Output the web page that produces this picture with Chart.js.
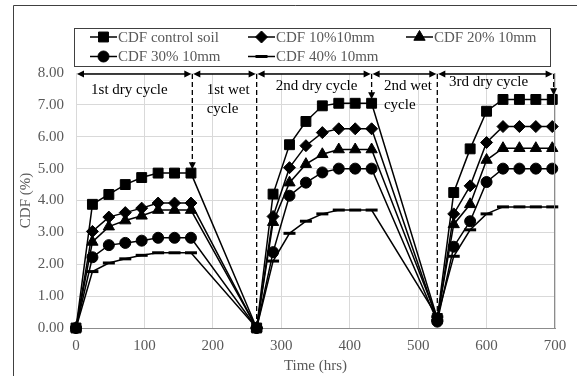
<!DOCTYPE html>
<html>
<head>
<meta charset="utf-8">
<script src="https://cdn.jsdelivr.net/npm/chart.js@4"></script>
<style>
  body { margin: 0; background: #fff; }
  canvas { display: block; }
</style>
</head>
<body>
<canvas id="cdf" width="577" height="376"></canvas>
<script>
// time (hrs) of each reading
const times = [0, 24, 48, 72, 96, 120, 144, 168, 264, 288, 312, 336, 360, 384, 408, 432, 528, 552, 576, 600, 624, 648, 672, 696];

const seriesNames = ['CDF control soil', 'CDF 10%10mm', 'CDF 20% 10mm', 'CDF 30% 10mm', 'CDF 40% 10mm'];
const controlSoil = [0, 3.88, 4.19, 4.50, 4.72, 4.86, 4.86, 4.86, 0, 4.20, 5.75, 6.48, 6.97, 7.05, 7.05, 7.05, 0.30, 4.25, 5.62, 6.80, 7.17, 7.17, 7.17, 7.17];
const fiber10 = [0, 3.03, 3.48, 3.62, 3.76, 3.92, 3.92, 3.92, 0, 3.50, 5.03, 5.72, 6.13, 6.25, 6.25, 6.25, 0.25, 3.58, 4.46, 5.82, 6.32, 6.32, 6.32, 6.32];
const fiber20 = [0, 2.70, 3.18, 3.37, 3.52, 3.70, 3.70, 3.70, 0, 3.32, 4.56, 5.14, 5.45, 5.60, 5.60, 5.60, 0.30, 3.25, 3.88, 5.27, 5.64, 5.64, 5.64, 5.64];
const fiber30 = [0, 2.22, 2.60, 2.67, 2.74, 2.83, 2.83, 2.83, 0, 2.38, 4.15, 4.56, 4.88, 5.00, 5.00, 5.00, 0.20, 2.55, 3.35, 4.58, 5.00, 5.00, 5.00, 5.00];
const fiber40 = [0, 1.77, 2.04, 2.17, 2.28, 2.36, 2.36, 2.36, 0, 2.10, 2.97, 3.35, 3.58, 3.70, 3.70, 3.70, 0.35, 2.25, 3.08, 3.58, 3.80, 3.80, 3.80, 3.80];

// cycle annotations (data units)
const cycleBounds = [0, 170, 264, 432, 528, 698];
const cycleArrowY = 7.97;
const cycleLabels = [['1st dry cycle'], ['1st wet', 'cycle'], ['2nd dry cycle'], ['2nd wet', 'cycle'], ['3rd dry cycle']];
const cycleLabelX = [22, 191, 292, 450, 545];
const cycleLabelY = [7.48, 7.48, 7.58, 7.58, 7.71];
const dashX = [170, 264, 432, 528, 698];
const dashEndY = [4.98, 0, 7.18, 0.3, 7.3];
const dashArrow = [true, false, true, false, true];

const FONT = '"Liberation Serif", "Times New Roman", serif';

const styles = [
    { pointStyle: 'rect', pointRadius: 7, pointBorderWidth: 1 },
    { pointStyle: 'rectRot', pointRadius: 6, pointBorderWidth: 1 },
    { pointStyle: 'triangle', pointRadius: 6.5, pointBorderWidth: 1 },
    { pointStyle: 'circle', pointRadius: 5.5, pointBorderWidth: 1 },
    { pointStyle: 'line', pointRadius: 6, pointBorderWidth: 3 },
];
const allValues = [controlSoil, fiber10, fiber20, fiber30, fiber40];

const datasets = allValues.map((vals, i) => ({
    label: seriesNames[i],
    data: vals.map((v, k) => ({ x: times[k], y: v })),
    borderColor: '#000',
    backgroundColor: '#000',
    pointBackgroundColor: '#000',
    pointBorderColor: '#000',
    borderWidth: 1.5,
    clip: false,
    ...styles[i],
}));

function arrowHead(ctx, x, y, ang, len, half) {
    ctx.beginPath();
    ctx.moveTo(x, y);
    ctx.lineTo(x - len * Math.cos(ang) + half * Math.sin(ang), y - len * Math.sin(ang) - half * Math.cos(ang));
    ctx.lineTo(x - len * Math.cos(ang) - half * Math.sin(ang), y - len * Math.sin(ang) + half * Math.cos(ang));
    ctx.closePath();
    ctx.fill();
}

const overlay = {
    id: 'overlay',
    afterDraw(chart) {
        const { ctx, chartArea: a, scales: { x, y } } = chart;
        ctx.save();

        // outer frame (only left/top visible)
        ctx.strokeStyle = '#404040';
        ctx.lineWidth = 1;
        ctx.beginPath();
        ctx.moveTo(13.5, 380);
        ctx.lineTo(13.5, 5.5);
        ctx.lineTo(580, 5.5);
        ctx.stroke();

        // plot area right edge
        ctx.strokeStyle = '#8c8c8c';
        ctx.beginPath();
        ctx.moveTo(Math.round(a.right) - 0.5, a.top);
        ctx.lineTo(Math.round(a.right) - 0.5, a.bottom);
        ctx.stroke();

        // double arrows for cycles
        ctx.strokeStyle = '#000';
        ctx.fillStyle = '#000';
        ctx.lineWidth = 1.5;
        const ay = y.getPixelForValue(cycleArrowY);
        for (let i = 0; i < cycleBounds.length - 1; i++) {
            const x1 = x.getPixelForValue(cycleBounds[i]) + 1;
            const x2 = x.getPixelForValue(cycleBounds[i + 1]) - 1;
            ctx.beginPath();
            ctx.moveTo(x1 + 4, ay);
            ctx.lineTo(x2 - 4, ay);
            ctx.stroke();
            arrowHead(ctx, x1, ay, Math.PI, 7, 3.5);
            arrowHead(ctx, x2, ay, 0, 7, 3.5);
        }

        // dashed verticals
        ctx.setLineDash([5, 3]);
        ctx.lineWidth = 1.3;
        dashX.forEach((dx, i) => {
            const px = x.getPixelForValue(dx);
            const yEnd = y.getPixelForValue(dashEndY[i]);
            ctx.beginPath();
            ctx.moveTo(px, ay);
            ctx.lineTo(px, dashArrow[i] ? yEnd - 5 : yEnd);
            ctx.stroke();
        });
        ctx.setLineDash([]);
        dashX.forEach((dx, i) => {
            if (!dashArrow[i]) return;
            arrowHead(ctx, x.getPixelForValue(dx), y.getPixelForValue(dashEndY[i]), Math.PI / 2, 7, 3.5);
        });

        // cycle labels
        ctx.font = '15px ' + FONT;
        ctx.fillStyle = '#000';
        ctx.textAlign = 'left';
        ctx.textBaseline = 'middle';
        cycleLabels.forEach((lines, i) => {
            const lx = x.getPixelForValue(cycleLabelX[i]);
            const ly = y.getPixelForValue(cycleLabelY[i]);
            lines.forEach((t, j) => ctx.fillText(t, lx, ly + j * 19));
        });

        // legend
        const legX = [90, 248, 406];
        const legY = [37, 56.5];
        ctx.strokeStyle = '#404040';
        ctx.lineWidth = 1;
        ctx.strokeRect(74.5, 28.5, 476, 38);
        chart.data.datasets.forEach((ds, i) => {
            const lx = legX[i % 3];
            const ly = legY[Math.floor(i / 3)];
            ctx.strokeStyle = '#000';
            ctx.fillStyle = '#000';
            ctx.lineWidth = 1.5;
            ctx.beginPath();
            ctx.moveTo(lx, ly);
            ctx.lineTo(lx + 27, ly);
            ctx.stroke();
            ctx.lineWidth = ds.pointBorderWidth;
            Chart.helpers.drawPoint(ctx, {
                pointStyle: ds.pointStyle,
                radius: ds.pointRadius,
                borderWidth: ds.pointBorderWidth,
                rotation: 0,
            }, lx + 13.5, ly);
            ctx.fillStyle = '#595959';
            ctx.font = '15px ' + FONT;
            ctx.textAlign = 'left';
            ctx.textBaseline = 'middle';
            ctx.fillText(ds.label, lx + 28, ly + 1);
        });

        ctx.restore();
    },
};

new Chart(document.getElementById('cdf'), {
    type: 'line',
    data: { datasets: datasets },
    options: {
        responsive: false,
        animation: false,
        devicePixelRatio: 1,
        layout: { padding: { left: 14, right: 22, top: 73, bottom: 0 } },
        plugins: {
            legend: { display: false },
            tooltip: { enabled: false },
        },
        scales: {
            x: {
                type: 'linear',
                min: 0,
                max: 700,
                ticks: { stepSize: 100, padding: 9, color: '#595959', font: { family: FONT, size: 15 } },
                grid: { color: '#d9d9d9', drawTicks: false },
                border: { color: '#8c8c8c' },
                title: { display: true, text: 'Time (hrs)', color: '#595959', font: { family: FONT, size: 15 }, padding: { top: 0, bottom: 1 } },
                afterFit: (scale) => { scale.height = 48; },
            },
            y: {
                min: 0,
                max: 8,
                ticks: { stepSize: 1, padding: 12, color: '#595959', font: { family: FONT, size: 15 }, callback: (v) => v.toFixed(2) },
                grid: { color: '#d9d9d9', drawTicks: false },
                border: { color: '#d9d9d9' },
                title: { display: true, text: 'CDF (%)', color: '#595959', font: { family: FONT, size: 15 }, padding: { top: 3, bottom: 0 } },
                afterFit: (scale) => { scale.width = 62; },
            },
        },
    },
    plugins: [overlay],
});
</script>
</body>
</html>
